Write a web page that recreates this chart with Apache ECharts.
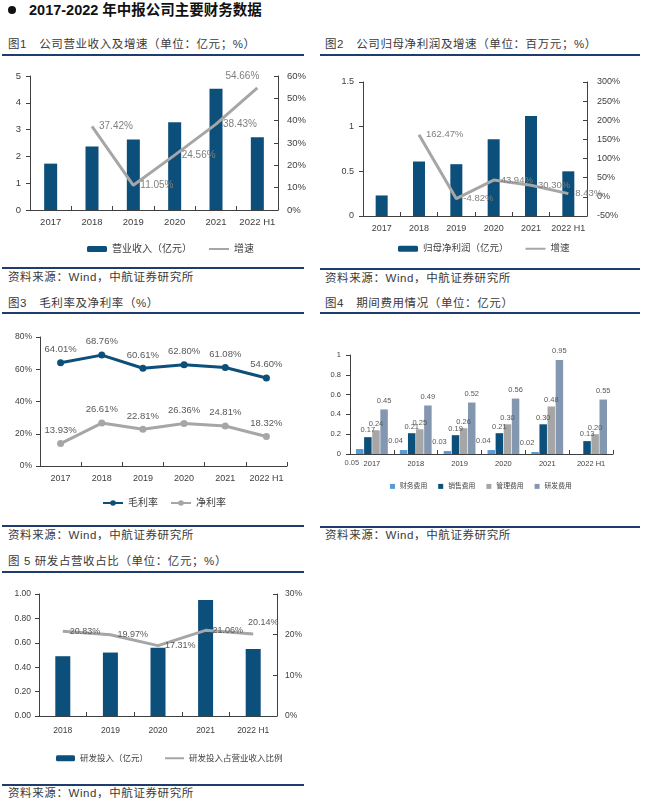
<!DOCTYPE html>
<html lang="zh">
<head>
<meta charset="UTF-8">
<title>2017-2022 年中报公司主要财务数据</title>
<script src="https://cdn.jsdelivr.net/npm/echarts@6/dist/echarts.min.js"></script>
<style>
  body { margin: 0; width: 651px; height: 802px; position: relative; background: #fff; overflow: hidden;
         font-family: "Liberation Sans", "Noto Sans CJK SC", sans-serif; }
  #main { position: absolute; left: 0; top: 0; width: 651px; height: 802px; }
  .t { position: absolute; white-space: nowrap; color: #3a3a3a; font-size: 11.5px; line-height: 14px; letter-spacing: 0.6px; }
  .hr { position: absolute; height: 1.5px; background: #1f3c6e; }
  .head { position: absolute; left: 29px; top: 1px; font-size: 14.5px; font-weight: bold; color: #111; line-height: 18px; }
  .dot { position: absolute; left: 8px; top: 6px; width: 8px; height: 8px; border-radius: 50%; background: #111; }
</style>
</head>
<body>
<div class="dot"></div>
<div class="head">2017-2022 年中报公司主要财务数据</div>

<div class="t" style="left:8px;top:37px">图1　公司营业收入及增速（单位：亿元；%）</div>
<div class="hr" style="left:2px;top:54px;width:302px"></div>
<div class="t" style="left:325px;top:37px">图2　公司归母净利润及增速（单位：百万元；%）</div>
<div class="hr" style="left:320px;top:54px;width:320px"></div>
<div class="hr" style="left:2px;top:267px;width:302px"></div>
<div class="t" style="left:8px;top:270px">资料来源：Wind，中航证券研究所</div>
<div class="hr" style="left:320px;top:268px;width:320px"></div>
<div class="t" style="left:325px;top:271px">资料来源：Wind，中航证券研究所</div>

<div class="t" style="left:8px;top:296px">图3　毛利率及净利率（%）</div>
<div class="hr" style="left:2px;top:312px;width:302px"></div>
<div class="t" style="left:325px;top:296px">图4　期间费用情况（单位：亿元）</div>
<div class="hr" style="left:320px;top:312px;width:320px"></div>
<div class="hr" style="left:2px;top:525px;width:302px"></div>
<div class="t" style="left:8px;top:528px">资料来源：Wind，中航证券研究所</div>
<div class="hr" style="left:320px;top:526px;width:320px"></div>
<div class="t" style="left:325px;top:528px">资料来源：Wind，中航证券研究所</div>

<div class="t" style="left:8px;top:554px">图 5 研发占营收占比（单位：亿元；%）</div>
<div class="hr" style="left:2px;top:571px;width:302px"></div>
<div class="hr" style="left:2px;top:784px;width:302px"></div>
<div class="t" style="left:8px;top:786px">资料来源：Wind，中航证券研究所</div>

<div id="main"></div>

<script type="text/javascript">
// 数据
var years6 = ['2017', '2018', '2019', '2020', '2021', '2022 H1'];
var years5 = ['2018', '2019', '2020', '2021', '2022 H1'];
var revenue = [1.73, 2.37, 2.63, 3.27, 4.52, 2.71];
var revenueGrowth = [null, 37.42, 11.05, 24.56, 38.43, 54.66];
var netProfit = [0.23, 0.61, 0.58, 0.86, 1.12, 0.50];
var netProfitGrowth = [null, 162.47, -4.82, 43.94, 30.30, 8.43];
var grossMargin = [64.01, 68.76, 60.61, 62.80, 61.08, 54.60];
var netMargin = [13.93, 26.61, 22.81, 26.36, 24.81, 18.32];
var financeExp = [0.05, 0.04, 0.03, 0.04, 0.02, null];
var salesExp = [0.17, 0.21, 0.19, 0.21, 0.30, 0.13];
var adminExp = [0.24, 0.25, 0.26, 0.30, 0.48, 0.20];
var rdExp = [0.45, 0.49, 0.52, 0.56, 0.95, 0.55];
var rdInvest = [0.49, 0.52, 0.56, 0.95, 0.55];
var rdRatio = [20.83, 19.97, 17.31, 21.06, 20.14];

var navy = '#0c4f7a';
var grey = '#a6a6a6';
var axisCol = '#404040';
var labelCol = '#595959';
var clear = 'rgba(0,0,0,0)';

var myChart = echarts.init(document.getElementById('main'));

function pct(p) { return p.value == null ? '' : p.value.toFixed(2) + '%'; }

// x轴
function xAx(grid, cats, size, margin) {
    return {
        type: 'category', gridIndex: grid, data: cats,
        axisLine: { lineStyle: { color: axisCol, width: 1 } },
        axisTick: { show: true, inside: true, length: 4, lineStyle: { color: axisCol } },
        axisLabel: { color: axisCol, fontSize: size, margin: margin, interval: 0 },
        splitLine: { show: false }
    };
}
// y轴
function yAx(grid, pos, min, max, step, size, margin, fmt) {
    return {
        type: 'value', gridIndex: grid, position: pos, min: min, max: max, interval: step,
        axisLine: { show: true, lineStyle: { color: axisCol, width: 1 } },
        axisTick: { show: true, inside: pos === 'right', length: 4, lineStyle: { color: axisCol } },
        axisLabel: { color: axisCol, fontSize: size, margin: margin, formatter: fmt },
        splitLine: { show: false }
    };
}
function growthData(arr, lastPos, lastOffset) {
    return arr.map(function (v, i) {
        if (i === arr.length - 1 && lastPos) {
            return { value: v, label: { position: lastPos, offset: lastOffset } };
        }
        return v;
    });
}
// 灰色折线(无标记点)
function greyLine(name, xi, yi, size, col, data) {
    return {
        name: name, type: 'line', xAxisIndex: xi, yAxisIndex: yi,
        symbol: 'circle', symbolSize: 4, showSymbol: true,
        lineStyle: { color: grey, width: 3 }, itemStyle: { color: clear, borderWidth: 0 },
        label: { show: true, position: 'right', distance: 5, color: col, fontSize: size, formatter: pct },
        data: data
    };
}

var option = {
    animation: false,
    textStyle: { fontFamily: '"Liberation Sans", "Noto Sans CJK SC", sans-serif' },
    grid: [
        { left: 30, top: 76, width: 248, height: 134, outerBoundsMode: 'none' },
        { left: 363, top: 82, width: 224, height: 134, outerBoundsMode: 'none' },
        { left: 40, top: 337, width: 247, height: 129, outerBoundsMode: 'none' },
        { left: 350, top: 355, width: 263, height: 99, outerBoundsMode: 'none' },
        { left: 39, top: 594, width: 238, height: 122, outerBoundsMode: 'none' }
    ],
    xAxis: [
        xAx(0, years6, 9.5, 8),
        xAx(1, years6, 9, 8),
        xAx(2, years6, 9, 8),
        xAx(3, years6, 7.5, 6),
        xAx(4, years5, 8.5, 10)
    ],
    yAxis: [
        yAx(0, 'left', 0, 5, 1, 9.5, 9),
        yAx(0, 'right', 0, 60, 10, 9.5, 9, '{value}%'),
        yAx(1, 'left', 0, 1.5, 0.5, 9, 9),
        yAx(1, 'right', -50, 300, 50, 9, 10, '{value}%'),
        yAx(2, 'left', 0, 80, 20, 8.5, 8, '{value}%'),
        yAx(3, 'left', 0, 1, 0.2, 7.5, 9),
        yAx(4, 'left', 0, 1, 0.2, 8.5, 8, function (v) { return v.toFixed(2); }),
        yAx(4, 'right', 0, 30, 10, 8.5, 8, '{value}%')
    ],
    legend: [
        { left: 82, top: 239, itemWidth: 20, itemHeight: 6, itemGap: 16,
          textStyle: { fontSize: 10, color: axisCol }, data: ['营业收入（亿元）', '增速'] },
        { left: 393, top: 239, itemWidth: 20, itemHeight: 6, itemGap: 16,
          textStyle: { fontSize: 9.5, color: axisCol }, data: ['归母净利润（亿元）', '增速 '] },
        { left: 97, top: 493, itemWidth: 20, itemHeight: 7, itemGap: 12,
          textStyle: { fontSize: 10, color: axisCol }, data: ['毛利率', '净利率'] },
        { left: 385, top: 478, itemWidth: 5, itemHeight: 5, itemGap: 11, icon: 'rect',
          textStyle: { fontSize: 6.8, color: axisCol }, data: ['财务费用', '销售费用', '管理费用', '研发费用'] },
        { left: 51, top: 749, itemWidth: 19, itemHeight: 6, itemGap: 16,
          textStyle: { fontSize: 8.5, color: axisCol }, data: ['研发投入（亿元）', '研发投入占营业收入比例'] }
    ],
    series: [
        // 图1
        { name: '营业收入（亿元）', type: 'bar', xAxisIndex: 0, yAxisIndex: 0, barWidth: 13,
          itemStyle: { color: navy }, data: revenue },
        greyLine('增速', 0, 1, 10, '#7f7f7f', growthData(revenueGrowth, 'top', [-15, 0])),
        // 图2
        { name: '归母净利润（亿元）', type: 'bar', xAxisIndex: 1, yAxisIndex: 2, barWidth: 12,
          itemStyle: { color: navy }, data: netProfit },
        greyLine('增速 ', 1, 3, 9.5, '#7f7f7f', netProfitGrowth),
        // 图3
        { name: '毛利率', type: 'line', xAxisIndex: 2, yAxisIndex: 4, symbol: 'circle', symbolSize: 7,
          lineStyle: { color: navy, width: 3 }, itemStyle: { color: navy },
          label: { show: true, position: 'top', distance: 5, color: labelCol, fontSize: 9.5, formatter: pct },
          data: grossMargin },
        { name: '净利率', type: 'line', xAxisIndex: 2, yAxisIndex: 4, symbol: 'circle', symbolSize: 7,
          lineStyle: { color: grey, width: 3 }, itemStyle: { color: grey },
          label: { show: true, position: 'top', distance: 5, color: labelCol, fontSize: 9.5, formatter: pct },
          data: netMargin },
        // 图4
        { name: '财务费用', type: 'bar', xAxisIndex: 3, yAxisIndex: 5, barWidth: 7.5, barGap: '8%',
          itemStyle: { color: '#5b9bd5' },
          label: { show: true, position: 'top', offset: [-8, 0], color: labelCol, fontSize: 7.5,
                   formatter: function (p) { return p.value == null ? '' : p.value.toFixed(2); } },
          data: financeExp.map(function (v, i) {
              return i === 0 ? { value: v, label: { position: 'bottom', offset: [-8, 0] } } : v;
          }) },
        { name: '销售费用', type: 'bar', xAxisIndex: 3, yAxisIndex: 5, barWidth: 7.5, barGap: '8%',
          itemStyle: { color: navy },
          label: { show: true, position: 'top', distance: 3, color: labelCol, fontSize: 7.5,
                   formatter: function (p) { return p.value.toFixed(2); } },
          data: salesExp },
        { name: '管理费用', type: 'bar', xAxisIndex: 3, yAxisIndex: 5, barWidth: 7.5, barGap: '8%',
          itemStyle: { color: grey },
          label: { show: true, position: 'top', distance: 3, color: labelCol, fontSize: 7.5,
                   formatter: function (p) { return p.value.toFixed(2); } },
          data: adminExp },
        { name: '研发费用', type: 'bar', xAxisIndex: 3, yAxisIndex: 5, barWidth: 7.5, barGap: '8%',
          itemStyle: { color: '#8497b0' },
          label: { show: true, position: 'top', distance: 5, color: labelCol, fontSize: 7.5,
                   formatter: function (p) { return p.value.toFixed(2); } },
          data: rdExp },
        // 图5
        { name: '研发投入（亿元）', type: 'bar', xAxisIndex: 4, yAxisIndex: 6, barWidth: 15,
          itemStyle: { color: navy }, data: rdInvest },
        greyLine('研发投入占营业收入比例', 4, 7, 9, labelCol, growthData(rdRatio, 'top', [10, 0]))
    ]
};

myChart.setOption(option);
</script>
</body>
</html>
